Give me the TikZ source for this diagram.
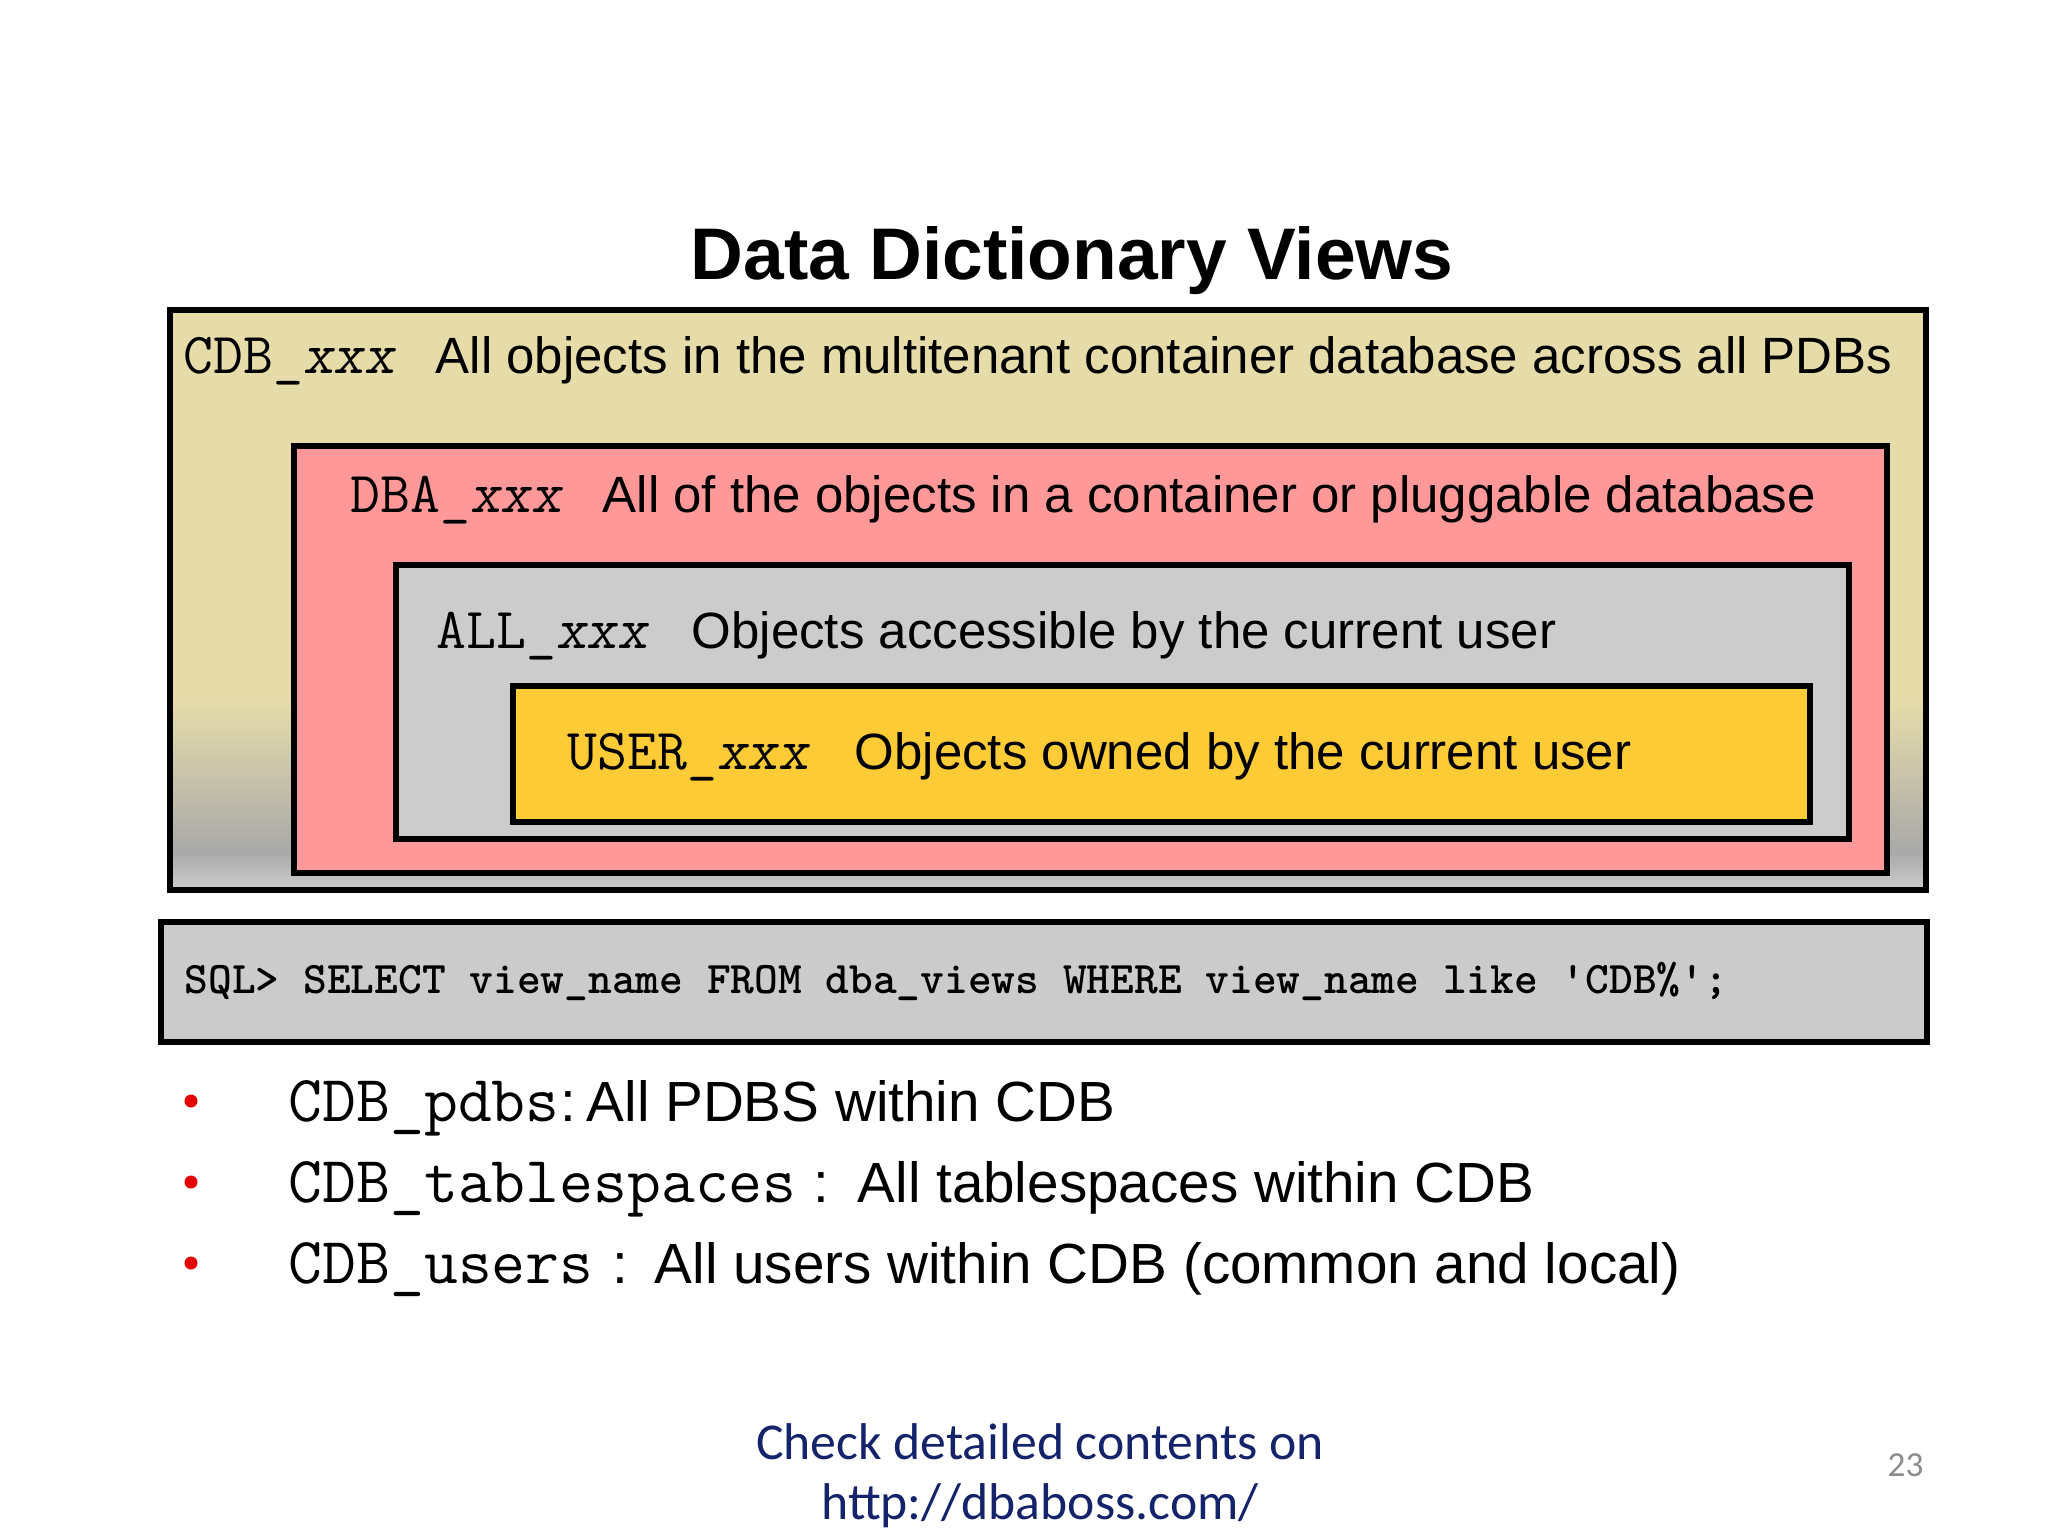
\documentclass[tikz,border=0pt]{standalone}
\usepackage{fontspec}
\newfontfamily\arial{Liberation Sans}
\newfontfamily\calib{Carlito}
\usetikzlibrary{fit}
\definecolor{cdbfill}{HTML}{E6DCAA}
\definecolor{cdbgray}{HTML}{A9A9A9}
\definecolor{cdblight}{HTML}{CDCDCD}
\definecolor{dbafill}{HTML}{FF9999}
\definecolor{allfill}{HTML}{CDCCCC}
\definecolor{userfill}{HTML}{FDCB35}
\definecolor{sqlfill}{HTML}{CCCBCB}
\definecolor{bulletred}{HTML}{E60000}
\definecolor{footblue}{HTML}{14236A}
\definecolor{pagegray}{HTML}{8C8C8C}
\begin{document}
\begin{tikzpicture}[x=0.01cm,y=-0.01cm,
  box/.style={draw=black, line width=1.6pt, inner sep=0pt},
  lbl/.style={anchor=base west, inner sep=0pt},
  boxtext/.style={lbl, font=\arial\fontsize{14.5}{17}\selectfont},
  boxterm/.style={lbl, font=\ttfamily\fontsize{16.5}{19}\selectfont},
  bullterm/.style={lbl, font=\ttfamily\fontsize{18.7}{21}\selectfont},
  bulltext/.style={lbl, font=\arial\fontsize{16.1}{19}\selectfont},
  bulletdot/.style={circle, fill=bulletred, inner sep=0pt, minimum size=0.13cm},
  foot/.style={anchor=base, inner sep=0pt, text=footblue, font=\calib\fontsize{14.7}{17}\selectfont}]
\useasboundingbox (0,0) rectangle (2048,1536);
\fill[white] (0,0) rectangle (2048,1536);

% title
\node[anchor=base, inner sep=0pt, font=\arial\bfseries\fontsize{20.8}{24}\selectfont] (title) at (1072,279) {Data Dictionary Views};

% CDB box with gradient
\fill[cdbfill] (170,310) rectangle (1926,890);
\shade[top color=cdbfill, bottom color=cdbgray] (170,700) rectangle (1926,852);
\shade[top color=cdbgray, bottom color=cdblight] (170,852) rectangle (1926,890);
\node[box, fit={(170,310)(1926,890)}] (cdb) {};
\node[box, fill=dbafill, fit={(294,446)(1887,873)}] (dba) {};
\node[box, fill=allfill, fit={(396,565)(1849,839)}] (all) {};
\node[box, fill=userfill, fit={(513,686)(1810,822)}] (user) {};

\node[boxterm] (cdbterm) at (183,373) {CDB\_\textsl{xxx}};
\node[boxtext] (cdbtext) at (435,373) {All objects in the multitenant container database across all PDBs};
\node[boxterm] (dbaterm) at (350,512) {DBA\_\textsl{xxx}};
\node[boxtext] (dbatext) at (602,512) {All of the objects in a container or pluggable database};
\node[boxterm] (allterm) at (436,648) {ALL\_\textsl{xxx}};
\node[boxtext] (alltext) at (691,648) {Objects accessible by the current user};
\node[boxterm] (userterm) at (567,769) {USER\_\textsl{xxx}};
\node[boxtext] (usertext) at (854,769) {Objects owned by the current user};

% SQL box
\node[box, fill=sqlfill, fit={(161,922)(1927,1042)}] (sql) {};
\node[lbl, font=\ttfamily\bfseries\fontsize{12.86}{15}\selectfont] (sqltext) at (184,993) {SQL> SELECT view\_name FROM dba\_views WHERE view\_name like 'CDB\%';};

% bullets
\node[bulletdot] (b1) at (191,1101) {};
\node[bulletdot] (b2) at (191,1182) {};
\node[bulletdot] (b3) at (191,1263) {};
\node[bullterm] (t1) at (288,1121) {CDB\_pdbs};
\node[bulltext] (c1) at (560,1121) {:};
\node[bulltext] (d1) at (586,1121) {All PDBS within CDB};
\node[bullterm] (t2) at (288,1202) {CDB\_tablespaces};
\node[bulltext] (c2) at (813,1202) {:};
\node[bulltext] (d2) at (857,1202) {All tablespaces within CDB};
\node[bullterm] (t3) at (288,1283) {CDB\_users};
\node[bulltext] (c3) at (612,1283) {:};
\node[bulltext] (d3) at (654,1283) {All users within CDB (common and local)};

% footer
\node[foot] (f1) at (1040,1459) {Check detailed contents on};
\node[foot] (f2) at (1040,1519) {http://dbaboss.com/};
\node[anchor=base east, inner sep=0pt, text=pagegray, font=\calib\fontsize{10}{12}\selectfont] (pg) at (1924,1476) {23};
\end{tikzpicture}
\end{document}
